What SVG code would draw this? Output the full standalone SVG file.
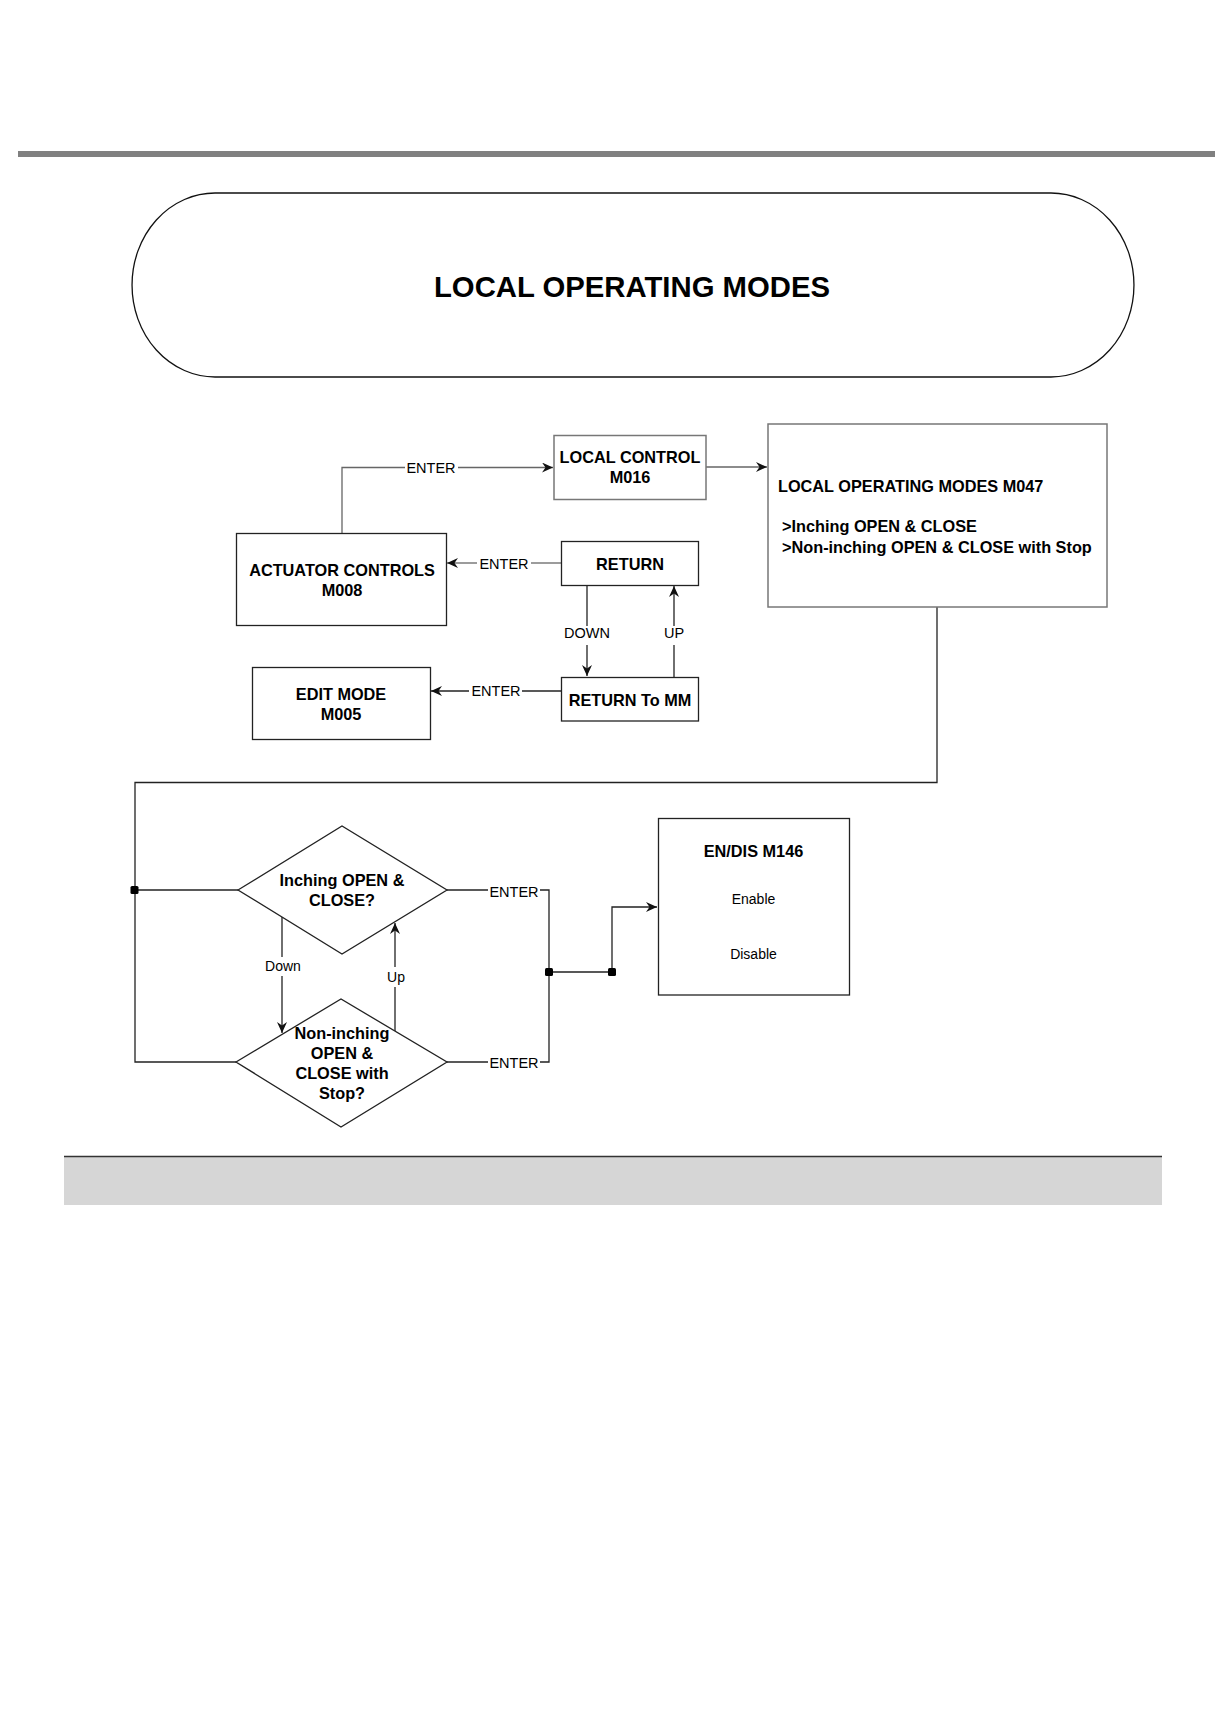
<svg xmlns="http://www.w3.org/2000/svg" width="1227" height="1720" viewBox="0 0 1227 1720">
<style>
text{font-family:"Liberation Sans",Arial,sans-serif;fill:#000}
.b{font-weight:bold;font-size:16.3px}
.r{font-size:14.5px}
.s{font-size:14px}
.box{fill:#fff;stroke:#222;stroke-width:1.3}
.gbox{fill:#fff;stroke:#777;stroke-width:1.5}
.ln{fill:none;stroke:#222;stroke-width:1.3}
.gl{fill:none;stroke:#666;stroke-width:1.3}
</style>
<defs>
<marker id="ah" markerUnits="userSpaceOnUse" markerWidth="12" markerHeight="10" refX="11" refY="5" orient="auto">
<path d="M0,0 L11,5 L0,10 L3.5,5 Z" fill="#111"/>
</marker>
</defs>
<rect x="0" y="0" width="1227" height="1720" fill="#fff"/>
<rect x="18" y="151" width="1197" height="6" fill="#808080"/>
<g id="title">
<path d="M215,193 H1051 A83,92 0 0 1 1051,377 H215 A83,92 0 0 1 215,193 Z" fill="#fff" stroke="#111" stroke-width="1.3"/>
<text x="632" y="297" text-anchor="middle" font-weight="bold" font-size="29.3">LOCAL OPERATING MODES</text>
</g>
<g id="connectors">
<path class="gl" d="M342,533 V467.5 H405"/>
<path class="gl" d="M458,467.5 H553" marker-end="url(#ah)"/>
<path class="gl" d="M706,467 H767" marker-end="url(#ah)"/>
<path class="gl" d="M561,563 H531"/>
<path class="gl" d="M477,563 H447" marker-end="url(#ah)"/>
<path class="ln" d="M587,585 V626"/>
<path class="ln" d="M587,645 V676" marker-end="url(#ah)"/>
<path class="ln" d="M674,677 V645"/>
<path class="ln" d="M674,626 V586" marker-end="url(#ah)"/>
<path class="ln" d="M561,691 H522"/>
<path class="ln" d="M469,691 H431" marker-end="url(#ah)"/>
<path class="ln" d="M937,607 V782.5 H135 V1062 H236"/>
<path class="ln" d="M135,890 H238"/>
<path class="ln" d="M282,917 V957"/>
<path class="ln" d="M282,976 V1033" marker-end="url(#ah)"/>
<path class="ln" d="M395,1031 V987"/>
<path class="ln" d="M395,967 V923" marker-end="url(#ah)"/>
<path class="ln" d="M447,890 H488"/>
<path class="ln" d="M540,890 H549 V1062 H540"/>
<path class="ln" d="M488,1062 H447"/>
<path class="ln" d="M549,972 H612 V907 H657" marker-end="url(#ah)"/>
<rect x="130.5" y="886" width="8" height="8" rx="1.5" fill="#000"/>
<rect x="545" y="968" width="8" height="8" rx="1.5" fill="#000"/>
<rect x="608" y="968" width="8" height="8" rx="1.5" fill="#000"/>
<text class="r" x="431" y="473" text-anchor="middle">ENTER</text>
<text class="r" x="504" y="569" text-anchor="middle">ENTER</text>
<text class="r" x="587" y="638" text-anchor="middle">DOWN</text>
<text class="r" x="674" y="638" text-anchor="middle">UP</text>
<text class="r" x="496" y="696" text-anchor="middle">ENTER</text>
<text class="s" x="283" y="971" text-anchor="middle">Down</text>
<text class="s" x="396" y="982" text-anchor="middle">Up</text>
<text class="r" x="514" y="896.5" text-anchor="middle">ENTER</text>
<text class="r" x="514" y="1068" text-anchor="middle">ENTER</text>
</g>
<g id="local-control">
<rect class="gbox" x="554" y="435.5" width="152" height="64"/>
<text class="b" x="630" y="462.5" text-anchor="middle">LOCAL CONTROL</text>
<text class="b" x="630" y="482.5" text-anchor="middle">M016</text>
</g>
<g id="m047">
<rect class="gbox" x="768" y="424" width="339" height="183"/>
<text class="b" x="778" y="491.5" font-size="16.5">LOCAL OPERATING MODES M047</text>
<text class="b" x="782" y="531.5" font-size="16.5">&gt;Inching OPEN &amp; CLOSE</text>
<text class="b" x="782" y="552.5" font-size="16.5">&gt;Non-inching OPEN &amp; CLOSE with Stop</text>
</g>
<g id="actuator-controls">
<rect class="box" x="236.5" y="533.5" width="210" height="92"/>
<text class="b" x="342" y="576" text-anchor="middle">ACTUATOR CONTROLS</text>
<text class="b" x="342" y="596" text-anchor="middle">M008</text>
</g>
<g id="return">
<rect class="box" x="561.5" y="541.5" width="137" height="44"/>
<text class="b" x="630" y="570" text-anchor="middle">RETURN</text>
</g>
<g id="return-to-mm">
<rect class="box" x="561.5" y="677.5" width="137" height="43.5"/>
<text class="b" x="630" y="705.5" text-anchor="middle">RETURN To MM</text>
</g>
<g id="edit-mode">
<rect class="box" x="252.5" y="667.5" width="178" height="72"/>
<text class="b" x="341" y="700" text-anchor="middle">EDIT MODE</text>
<text class="b" x="341" y="720" text-anchor="middle">M005</text>
</g>
<g id="inching">
<path class="box" d="M238,890 L342,826 L447,890 L342,954 Z"/>
<text class="b" x="342" y="886" text-anchor="middle">Inching OPEN &amp;</text>
<text class="b" x="342" y="905.5" text-anchor="middle">CLOSE?</text>
</g>
<g id="non-inching">
<path class="box" d="M236,1062 L341,999 L447,1062 L341,1127 Z"/>
<text class="b" x="342" y="1039" text-anchor="middle">Non-inching</text>
<text class="b" x="342" y="1058.5" text-anchor="middle">OPEN &amp;</text>
<text class="b" x="342" y="1079" text-anchor="middle">CLOSE with</text>
<text class="b" x="342" y="1099" text-anchor="middle">Stop?</text>
</g>
<g id="en-dis">
<rect class="box" x="658.5" y="818.5" width="191" height="176.5"/>
<text class="b" x="753.5" y="857" text-anchor="middle">EN/DIS M146</text>
<text class="s" x="753.5" y="904" text-anchor="middle">Enable</text>
<text class="s" x="753.5" y="959" text-anchor="middle">Disable</text>
</g>
<rect x="64" y="1156" width="1098" height="49" fill="#d6d6d6"/>
<line x1="64" y1="1156.5" x2="1162" y2="1156.5" stroke="#333" stroke-width="1.3"/>
</svg>
